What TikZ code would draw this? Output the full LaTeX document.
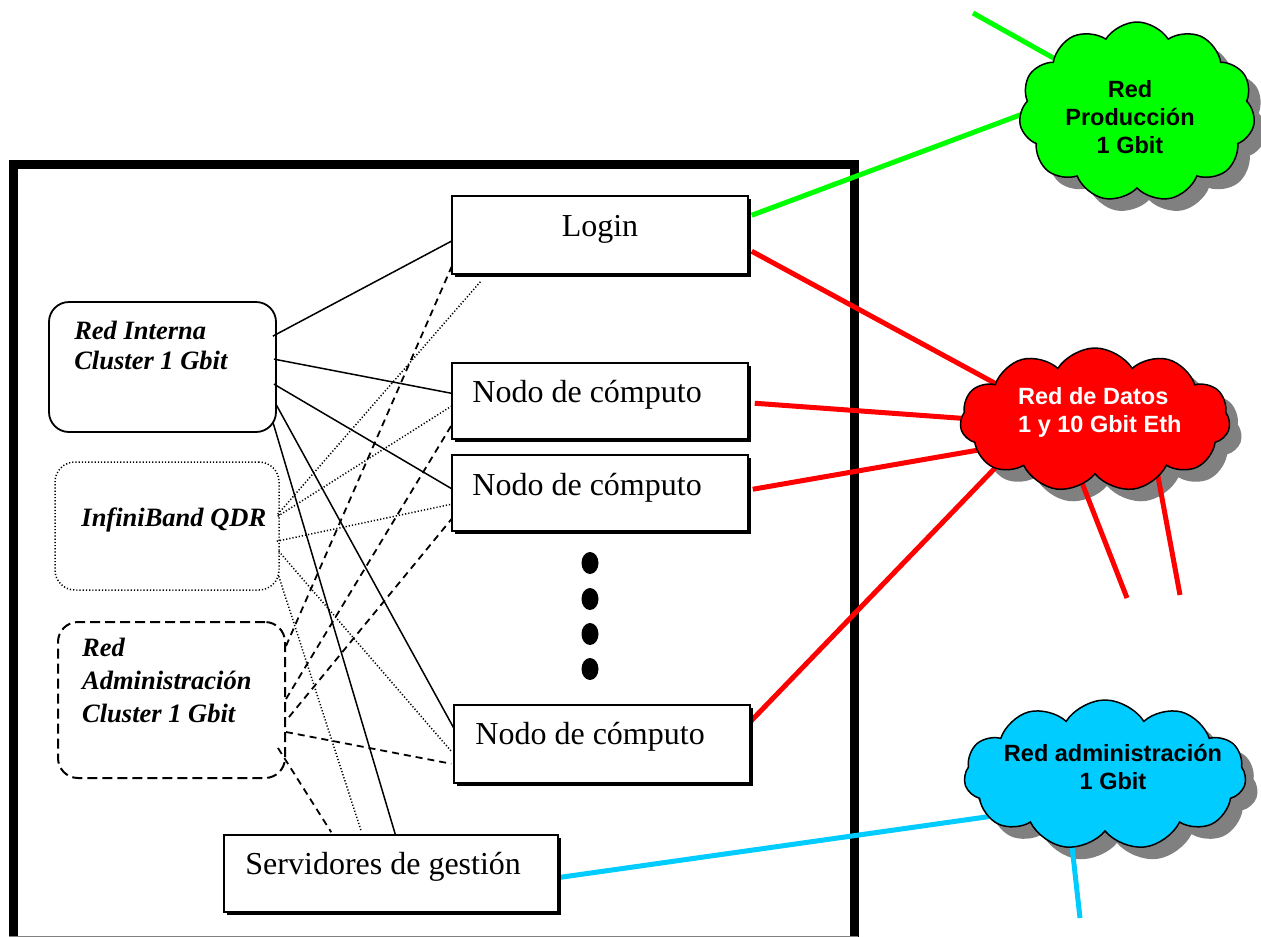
\documentclass[tikz,border=0pt]{standalone}
\usepackage{fontspec}
\setmainfont{Liberation Serif}
\newfontfamily\arialfont{Liberation Sans}
\usetikzlibrary{shapes.symbols,shapes.geometric,shadows}
\pgfdeclarelayer{back}
\pgfdeclarelayer{mid}
\pgfsetlayers{back,mid,main}
\definecolor{gnet}{HTML}{00FF00}
\definecolor{rnet}{HTML}{FF0000}
\definecolor{cnet}{HTML}{00CCFF}
\definecolor{shade}{HTML}{808080}
\tikzset{
  box/.style={draw, line width=1.5pt, fill=white, inner sep=0, minimum width=296pt, minimum height=77pt,
    drop shadow={shadow xshift=3pt, shadow yshift=-3pt, fill=black, opacity=1}},
  netbox/.style={draw, line width=1.8pt, rounded corners=20pt, inner sep=0},
  lbl/.style={inner sep=0, font=\fontsize{32}{38}\selectfont},
  netlbl/.style={inner sep=0, align=left, font=\fontsize{26.5}{30}\selectfont\bfseries\itshape},
  cloudlbl/.style={inner sep=0, font=\arialfont\fontsize{23.5}{28}\selectfont\bfseries},
  cloudshape/.style={cloud, cloud puffs=11, cloud puff arc=115, cloud ignores aspect, draw, line width=1.5pt, inner sep=0},
  cloudshadow/.style={cloud, cloud puffs=11, cloud puff arc=115, cloud ignores aspect, fill=shade, inner sep=0},
  dotmark/.style={ellipse, fill=black, minimum width=17pt, minimum height=22pt, inner sep=0},
  link/.style={line width=1.5pt},
  ibl/.style={line width=1.5pt, dash pattern=on 1.2pt off 2pt},
  ral/.style={line width=1.8pt, dash pattern=on 7pt off 5pt},
  gline/.style={line width=5pt, gnet},
  rline/.style={line width=5pt, rnet},
  cline/.style={line width=5pt, cnet},
}
\begin{document}
\begin{tikzpicture}[x=1pt, y=-1pt]
\useasboundingbox (0,0) rectangle (1261,937);
% frame
\begin{pgfonlayer}{back}
\draw[line width=9pt] (13,950) -- (13,164.5) -- (854,164.5) -- (854,950);
\draw[gray, line width=1pt] (9,936) -- (858,936);
\end{pgfonlayer}
% left network boxes
\node[netbox, minimum width=227pt, minimum height=130pt] (ri) at (162.5,367) {};
\node[netbox, line width=1.5pt, dash pattern=on 1.2pt off 2pt, minimum width=224pt, minimum height=128pt] (ib) at (167,526) {};
\node[netbox, line width=2pt, dash pattern=on 10pt off 5pt, minimum width=227pt, minimum height=156pt] (ra) at (171.5,700) {};
\node[netlbl, anchor=north west] (rit) at ([xshift=26pt,yshift=-20pt]ri.north west) {Red Interna\\Cluster 1 Gbit};
\node[netlbl, anchor=base west] (ibt) at ([xshift=27pt,yshift=-65pt]ib.north west) {InfiniBand QDR};
\node[netlbl, font=\fontsize{26.5}{33}\selectfont\bfseries\itshape, anchor=north west] (rat) at ([xshift=25pt,yshift=-17pt]ra.north west) {Red\\Administración\\Cluster 1 Gbit};
% machine boxes
\node[box, minimum height=78pt] (login) at (600,235) {};
\node[box, minimum height=76pt] (n1) at (600,401) {};
\node[box, minimum height=76pt] (n2) at (600,493) {};
\node[box, minimum height=78pt] (n3) at (602,744) {};
\node[box, minimum width=334pt, minimum height=77pt] (srv) at (391,873.5) {};
\node[lbl, anchor=base] (logint) at ([yshift=-41pt]login.north) {Login};
\node[lbl, anchor=base west] (n1t) at ([xshift=21pt,yshift=-40pt]n1.north west) {Nodo de cómputo};
\node[lbl, anchor=base west] (n2t) at ([xshift=21pt,yshift=-41pt]n2.north west) {Nodo de cómputo};
\node[lbl, anchor=base west] (n3t) at ([xshift=22pt,yshift=-40pt]n3.north west) {Nodo de cómputo};
\node[lbl, anchor=base west] (srvt) at ([xshift=22pt,yshift=-40pt]srv.north west) {Servidores de gestión};
% dots
\node[dotmark] (d1) at (590,563) {};
\node[dotmark] (d2) at (590,599) {};
\node[dotmark] (d3) at (590,634) {};
\node[dotmark] (d4) at (590,669) {};
% clouds
\node[cloudshape, fill=gnet, minimum width=236pt, minimum height=180pt] (gc) at (1137,112) {};
\node[cloudshape, fill=rnet, minimum width=270pt, minimum height=144pt] (rc) at (1095,420) {};
\node[cloudshape, fill=cnet, minimum width=282pt, minimum height=150pt] (cc) at (1105,775) {};
\begin{pgfonlayer}{back}
\node[cloudshadow, minimum width=236pt, minimum height=180pt] (gcs) at ([xshift=12pt,yshift=-12pt]gc.center) {};
\node[cloudshadow, minimum width=270pt, minimum height=144pt] (rcs) at ([xshift=12pt,yshift=-12pt]rc.center) {};
\node[cloudshadow, minimum width=282pt, minimum height=150pt] (ccs) at ([xshift=12pt,yshift=-12pt]cc.center) {};
\end{pgfonlayer}
\node[cloudlbl, align=center, anchor=north] (gt) at ([xshift=-7pt,yshift=32pt]gc.center) {Red\\Producción\\1 Gbit};
\node[cloudlbl, text=white, align=left, anchor=north west] (rt) at ([xshift=-77pt,yshift=33pt]rc.center) {Red de Datos\\1 y 10 Gbit Eth};
\node[cloudlbl, align=center, anchor=north] (ct) at ([xshift=8pt,yshift=31pt]cc.center) {Red administración\\1 Gbit};
% free ends
\coordinate (gfree) at (973,13);
\coordinate (rfree1) at (1127,598);
\coordinate (rfree2) at (1180,595);
\coordinate (cfree) at (1080,918);
% connectors
\begin{pgfonlayer}{mid}
\draw[link] ([xshift=-4pt,yshift=-35pt]ri.north east) -- ([yshift=-46pt]login.north west);
\draw[link] ([xshift=-3pt,yshift=-58pt]ri.north east) -- ([yshift=-31pt]n1.north west);
\draw[link] ([xshift=-3pt,yshift=-83pt]ri.north east) -- ([xshift=3pt,yshift=-36pt]n2.north west);
\draw[link] ([xshift=-1pt,yshift=-103pt]ri.north east) -- ([xshift=5pt,yshift=-32pt]n3.north west);
\draw[link] ([xshift=-4pt,yshift=-121pt]ri.north east) -- ([xshift=172pt]srv.north west);
\draw[ibl] ([xshift=-2pt,yshift=-53pt]ib.north east) -- ([xshift=30pt,yshift=-6pt]login.south west);
\draw[ibl] ([xshift=-2pt,yshift=-55pt]ib.north east) -- ([yshift=-44pt]n1.north west);
\draw[ibl] ([xshift=-3pt,yshift=-80pt]ib.north east) -- ([yshift=-50pt]n2.north west);
\draw[ibl] ([xshift=-1pt,yshift=-90pt]ib.north east) -- ([xshift=-2pt,yshift=-47pt]n3.north west);
\draw[ibl] ([xshift=-1pt,yshift=-115pt]ib.north east) -- ([xshift=138pt,yshift=3pt]srv.north west);
\draw[ral] ([yshift=-25pt]ra.north east) -- ([xshift=3pt,yshift=14pt]login.south west);
\draw[ral] ([yshift=-78pt]ra.north east) -- ([xshift=3pt,yshift=19pt]n1.south west);
\draw[ral] ([xshift=3pt,yshift=-96pt]ra.north east) -- ([xshift=3pt,yshift=16pt]n2.south west);
\draw[ral] ([yshift=-111pt]ra.north east) -- ([xshift=-2pt,yshift=20pt]n3.south west);
\draw[ral] ([xshift=-8pt,yshift=31pt]ra.south east) -- ([xshift=108pt,yshift=2pt]srv.north west);
\draw[gline] ([xshift=3pt,yshift=-20pt]login.north east) -- ([xshift=-97pt,yshift=4.5pt]gc.center);
\draw[gline] (gfree) -- ([xshift=-72pt,yshift=47.5pt]gc.center);
\draw[rline] ([xshift=3pt,yshift=-56pt]login.north east) -- ([xshift=-95pt,yshift=34pt]rc.center);
\draw[rline] ([xshift=6pt,yshift=-41pt]n1.north east) -- ([xshift=-110pt]rc.center);
\draw[rline] ([xshift=4pt,yshift=-35pt]n2.north east) -- ([xshift=-105pt,yshift=-28pt]rc.center);
\draw[rline] ([yshift=-17pt]n3.north east) -- ([xshift=-85pt,yshift=-32.5pt]rc.center);
\draw[rline] (rfree1) -- ([xshift=-18pt,yshift=-50pt]rc.center);
\draw[rline] (rfree2) -- ([xshift=59pt,yshift=-35pt]rc.center);
\draw[cline] ([xshift=2pt,yshift=-43pt]srv.north east) -- ([xshift=-105pt,yshift=-40pt]cc.center);
\draw[cline] (cfree) -- ([xshift=-37pt,yshift=-35pt]cc.center);
\end{pgfonlayer}
\end{tikzpicture}
\end{document}
